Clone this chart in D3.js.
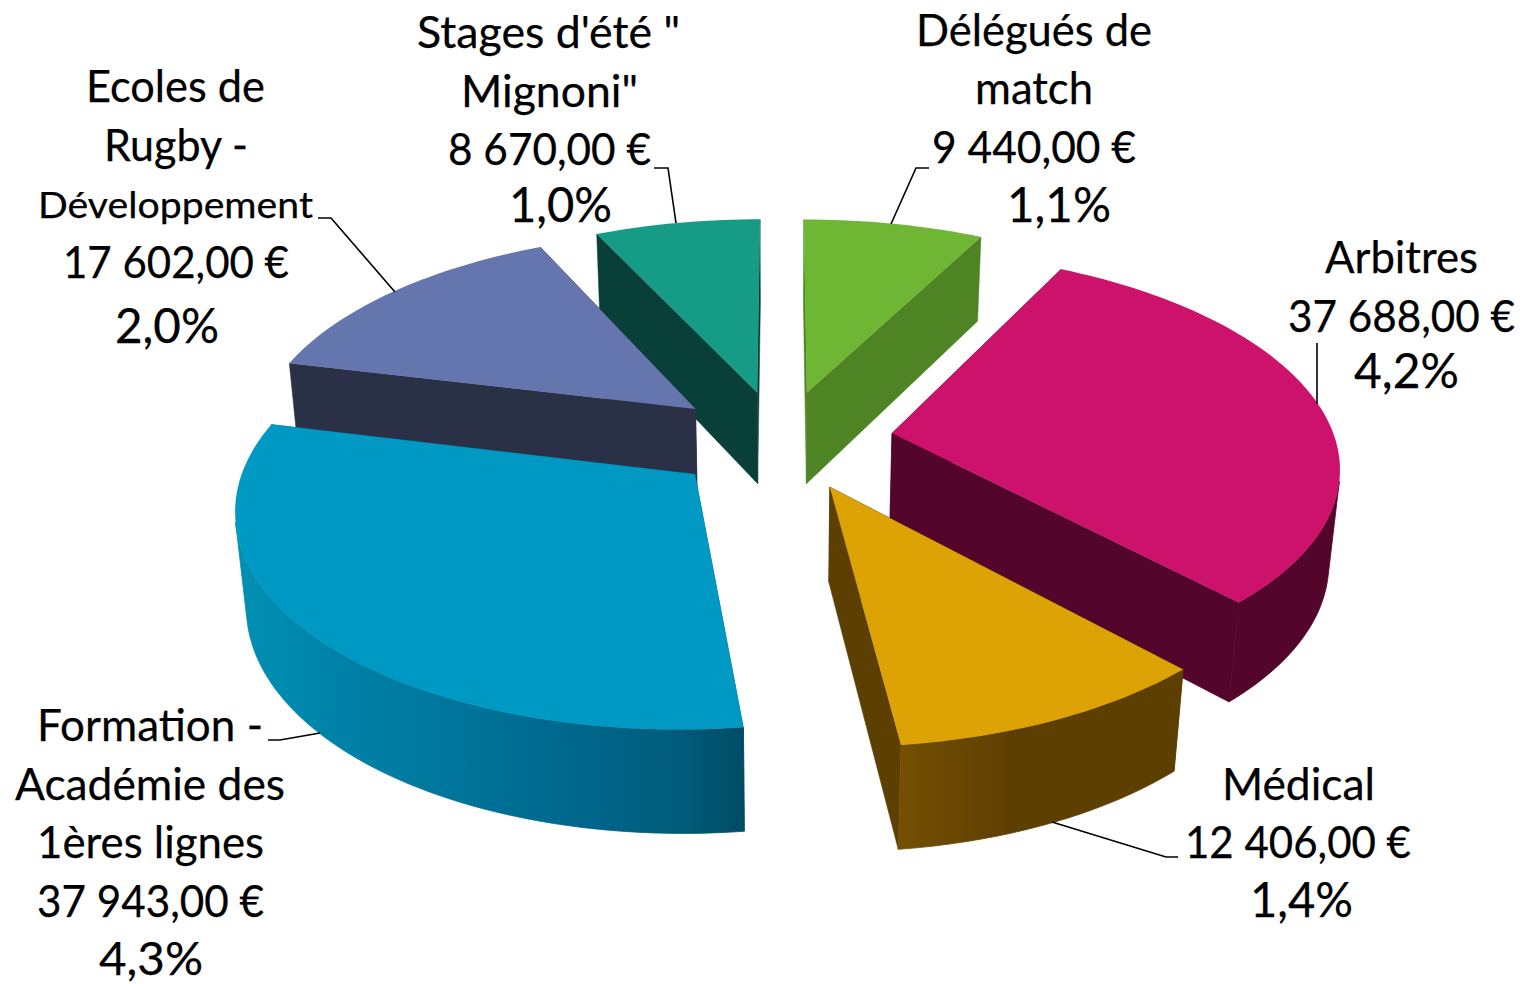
<!DOCTYPE html>
<html><head><meta charset="utf-8">
<script src="https://d3js.org/d3.v7.min.js"></script>
<style>html,body{margin:0;padding:0;background:#fff}svg{display:block}text{font-family:Lato,sans-serif;fill:#000;stroke:#000;stroke-width:.25}</style>
</head><body><svg id="c" width="1526" height="984"></svg>
<script>
const categories = ["Délégués de match","Arbitres","Médical","Formation - Académie des 1ères lignes","Ecoles de Rugby - Développement","Stages d'été \" Mignoni\""];
const values = [9440,37688,12406,37943,17602,8670];
const valueLabels = ["9 440,00 €","37 688,00 €","12 406,00 €","37 943,00 €","17 602,00 €","8 670,00 €"];
const percentLabels = ["1,1%","4,2%","1,4%","4,3%","2,0%","1,0%"];
const topColors = ["#6fb634","#cd126b","#dda204","#0099c3","#6576ae","#169b87"];
const sideColors = ["#4e8423","#53052b","#5d3f02","#00617f","#2a3147","#083f39"];
const drawOrder = [5,0,4,1,3,2];
// Rim shading from left to right, where the rim is not flat
const rimShades = {
  2:[[0,"#755003"],[0.4,"#5d3f02"],[1,"#5d3f02"]],
  3:[[0,"#0090b5"],[0.25,"#007fa5"],[0.7,"#00658a"],[0.88,"#005b78"],[1,"#004c65"]]
};

// Category lines as they wrap in the picture
const categoryLines = [["Délégués de","match"],["Arbitres"],["Médical"],["Formation -","Académie des","1ères lignes"],["Ecoles de","Rugby -","Développement"],["Stages d'été \"","Mignoni\""]];
// Label layout per line: [left, width, baseline, size]
const labelLayout = [
 [[916,236,46,44],[975,118,104,44],[932,204,162.7,44],[1007,104,221.7,48]],
 [[1325,153,273,44],[1288,227,331.7,44],[1354,105,387.7,48]],
 [[1222,153,799.7,44],[1185,226,857.7,44],[1250,103,916.7,48]],
 [[37,226,740.7,44],[15,270,799.7,44],[37,227,857.7,44],[37,227,916.7,44],[99,104,975,46]],
 [[86,179,101.7,44],[104,144,160.7,44],[38,275,218,36],[63,226,277.7,44],[115,104,342.7,48]],
 [[417,263,47.7,44],[461,177,106.7,44],[448,203,164.7,44],[509,103,222,48]]
];
const leaderLines = [
 [[929,168],[916,168],[891,224]],
 [[1317,343],[1317,404]],
 [[1178,857],[1166,857],[1052,822]],
 [[268,740],[280,740],[320,733]],
 [[318,218],[331,218],[395,292]],
 [[654,168],[668,168],[676,223]]
];

// Perspective view of the pie plane
const view = {cx:781, cy:440, sx:450, sz:209.5, persp:0.139, depth:95, shrink:0.02, explodeX:0.25, explodeZ:0.24, radX:0.985};
function project(X,Z,lower){
  const w = 1 - view.persp*Z + (lower?view.shrink:0);
  return [view.cx + view.sx*X/w, view.cy + (view.sz*Z + (lower?view.depth:0))/w];
}
const svg = d3.select("#c");
const defs = svg.append("defs");

const pie = d3.pie().sort(null).value(d=>d).startAngle(0).endAngle(2*Math.PI);
const arcs = pie(values);
const line = d3.line();

drawOrder.forEach(i=>{
  const a = arcs[i], mid=(a.startAngle+a.endAngle)/2;
  const ox = view.explodeX*Math.sin(mid), oz = -view.explodeZ*Math.cos(mid);
  const pt=(ang,r,low)=>project(ox+view.radX*r*Math.sin(ang), oz-r*Math.cos(ang), low);
  const n=Math.max(10,Math.round((a.endAngle-a.startAngle)*40));
  const angs=d3.range(n+1).map(k=>a.startAngle+(a.endAngle-a.startAngle)*k/n);
  const g=svg.append("g").attr("class","slice").attr("data-name",categories[i]);
  const side=sideColors[i];
  [a.startAngle,a.endAngle].forEach(t=>{
    const p=[pt(t,0,false),pt(t,1,false),pt(t,1,true),pt(t,0,true)];
    g.append("path").attr("d",line(p)+"Z").attr("fill",side).attr("stroke",side).attr("stroke-width",.5);
  });
  // Only the part of the rim that faces the viewer, as one unfolded strip
  const facing=d3.pairs(angs).filter(([t0,t1])=>
    d3.polygonArea([pt(t0,1,false),pt(t1,1,false),pt(t1,1,true),pt(t0,1,true)])>0);
  if(facing.length){
    const vis=[facing[0][0]].concat(facing.map(f=>f[1]));
    let rimFill=side;
    if(rimShades[i]){
      const xs=vis.flatMap(t=>[pt(t,1,false)[0],pt(t,1,true)[0]]);
      const [x0,x1]=d3.extent(xs);
      const gr=defs.append("linearGradient").attr("id","rim"+i).attr("gradientUnits","userSpaceOnUse")
        .attr("x1",x0).attr("x2",x1).attr("y1",0).attr("y2",0);
      rimShades[i].forEach(s=>gr.append("stop").attr("offset",s[0]).attr("stop-color",s[1]));
      rimFill=`url(#rim${i})`;
    }
    const strip=vis.map(t=>pt(t,1,false)).concat(vis.slice().reverse().map(t=>pt(t,1,true)));
    g.append("path").attr("d",line(strip)+"Z").attr("fill",rimFill).attr("stroke",rimFill).attr("stroke-width",.8);
  }
  const topFace=[pt(0,0,false)].concat(angs.map(t=>pt(t,1,false)));
  g.append("path").attr("d",line(topFace)+"Z").attr("fill",topColors[i]);
});

leaderLines.forEach(l=>svg.append("path").attr("d",line(l)).attr("fill","none").attr("stroke","#000").attr("stroke-width",1.6));

categories.forEach((c,i)=>{
  const lines=categoryLines[i].concat([valueLabels[i],percentLabels[i]]);
  lines.forEach((t,j)=>{
    const l=labelLayout[i][j];
    svg.append("text").attr("x",l[0]).attr("y",l[2]).attr("font-size",l[3])
      .attr("textLength",l[1]).attr("lengthAdjust","spacingAndGlyphs").text(t);
  });
});
</script></body></html>
